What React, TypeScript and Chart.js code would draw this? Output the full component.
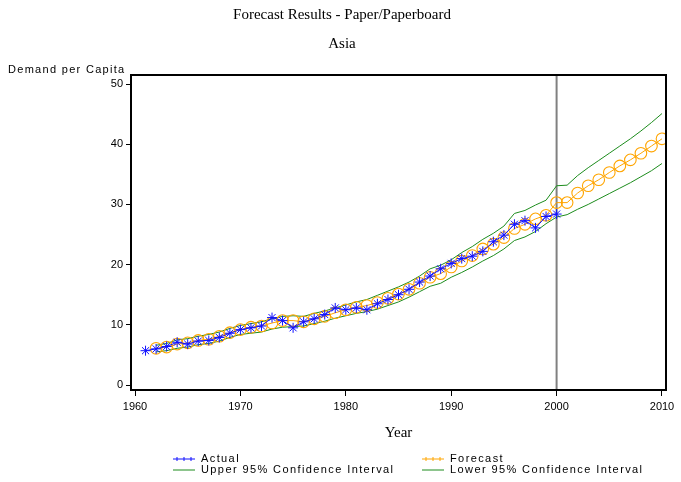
import React, { useEffect, useRef } from "react";
import { Chart, registerables } from "chart.js";

Chart.register(...registerables);

const TITLE = "Forecast Results - Paper/Paperboard";
const SUBTITLE = "Asia";
const Y_LABEL = "Demand per Capita";
const X_LABEL = "Year";

const xTicks = [1960, 1970, 1980, 1990, 2000, 2010];
const yTicks = [0, 10, 20, 30, 40, 50];
const forecastStartMarker = 2000;

const actualStart = 1961;
const actualValues = [
  5.7, 6.0, 6.4, 7.1, 6.8, 7.3, 7.4, 7.9, 8.6, 9.2,
  9.5, 9.8, 11.2, 10.7, 9.5, 10.5, 11.0, 11.7, 12.8, 12.5,
  12.8, 12.5, 13.5, 14.2, 15.0, 15.9, 17.1, 18.1, 19.3, 20.2,
  21.0, 21.4, 22.2, 23.8, 24.9, 26.7, 27.3, 26.1, 28.0, 28.4,
];

const forecastStart = 1962;
const forecastValues = [
  6.1, 6.3, 6.8, 7.0, 7.4, 7.6, 8.1, 8.7, 9.2,
  9.6, 9.8, 10.3, 10.7, 10.7, 10.5, 11.0, 11.4, 12.0, 12.5,
  12.9, 13.2, 13.7, 14.4, 15.1, 15.9, 16.9, 17.9, 18.5, 19.6,
  20.6, 21.5, 22.6, 23.4, 24.5, 26.0, 26.7, 27.6, 28.2, 30.3,
  30.3, 31.9, 33.1, 34.1, 35.3, 36.4, 37.4, 38.5, 39.7, 40.9,
];
const upperValues = [
  6.6, 6.9, 7.5, 7.7, 8.1, 8.4, 8.8, 9.4, 9.9,
  10.2, 10.5, 11.0, 11.4, 11.5, 11.4, 11.9, 12.3, 12.8, 13.3,
  13.8, 14.2, 14.9, 15.6, 16.3, 17.1, 18.1, 19.3, 19.9, 20.8,
  22.0, 23.0, 24.2, 25.2, 26.4, 28.5, 29.0, 29.9, 30.7, 33.1,
  33.2, 34.8, 36.1, 37.3, 38.5, 39.7, 40.9, 42.2, 43.6, 45.1,
];
const lowerValues = [
  5.5, 5.7, 6.1, 6.3, 6.7, 6.9, 7.3, 7.9, 8.4,
  8.6, 8.8, 9.3, 9.6, 9.7, 9.8, 10.2, 10.6, 11.1, 11.5,
  11.9, 12.2, 12.6, 13.2, 13.8, 14.6, 15.5, 16.4, 16.9, 17.9,
  18.7, 19.6, 20.6, 21.5, 22.6, 24.0, 24.6, 25.5, 26.8, 27.9,
  28.3, 29.2, 30.0, 30.9, 31.8, 32.7, 33.6, 34.6, 35.6, 36.8,
];

const BLUE = "#1010ff";
const ORANGE = "#ffa500";
const GREEN = "#1c8c1c";
const SANS = "'Liberation Sans', Arial, sans-serif";
const SERIF = "'Liberation Serif', 'Times New Roman', serif";

const toPoints = (start: number, vals: number[]) =>
  vals.map((v, i) => ({ x: start + i, y: v }));

const decor = {
  id: "decor",
  beforeDatasetsDraw(chart: any) {
    const { ctx, chartArea, scales } = chart;
    const x = scales.x.getPixelForValue(forecastStartMarker);
    ctx.save();
    ctx.strokeStyle = "#808080";
    ctx.lineWidth = 2;
    ctx.beginPath();
    ctx.moveTo(x, chartArea.top);
    ctx.lineTo(x, chartArea.bottom);
    ctx.stroke();
    ctx.restore();
  },
  afterDraw(chart: any) {
    const { ctx, chartArea } = chart;
    ctx.save();
    ctx.strokeStyle = "#000";
    ctx.lineWidth = 2;
    ctx.strokeRect(chartArea.left, chartArea.top, chartArea.right - chartArea.left, chartArea.bottom - chartArea.top);

    ctx.fillStyle = "#000";
    ctx.font = `15px ${SERIF}`;
    ctx.textAlign = "center";
    ctx.textBaseline = "middle";
    ctx.fillText(TITLE, 342, 15);
    ctx.fillText(SUBTITLE, 342, 44);
    ctx.fillText(X_LABEL, (chartArea.left + chartArea.right) / 2, 433);

    ctx.font = `11px ${SANS}`;
    ctx.textAlign = "left";
    (ctx as any).letterSpacing = "1.3px";
    ctx.fillText(Y_LABEL, 8, 70);

    const items = [
      { label: "Actual", color: BLUE, x: 173, y: 459, marker: true },
      { label: "Forecast", color: ORANGE, x: 422, y: 459, marker: true },
      { label: "Upper 95% Confidence Interval", color: GREEN, x: 173, y: 470, marker: false },
      { label: "Lower 95% Confidence Interval", color: GREEN, x: 422, y: 470, marker: false },
    ];
    (ctx as any).letterSpacing = "1.4px";
    for (const it of items) {
      ctx.strokeStyle = it.color;
      ctx.lineWidth = 1;
      ctx.beginPath();
      ctx.moveTo(it.x, it.y);
      ctx.lineTo(it.x + 22, it.y);
      ctx.stroke();
      if (it.marker) {
        for (const mx of [it.x + 4, it.x + 11, it.x + 18]) {
          ctx.beginPath();
          ctx.moveTo(mx, it.y - 2);
          ctx.lineTo(mx, it.y + 2);
          ctx.stroke();
        }
      }
      ctx.fillStyle = "#000";
      ctx.fillText(it.label, it.x + 28, it.y);
    }
    (ctx as any).letterSpacing = "0px";
    ctx.restore();
  },
};

export default function App() {
  const ref = useRef<HTMLCanvasElement | null>(null);

  useEffect(() => {
    if (!ref.current) return;
    const chart = new Chart(ref.current, {
      type: "line",
      data: {
        datasets: [
          {
            label: "Actual",
            data: toPoints(actualStart, actualValues),
            borderColor: BLUE,
            backgroundColor: BLUE,
            borderWidth: 1,
            pointStyle: "star",
            pointRadius: 5,
            pointBorderWidth: 1,
            pointBorderColor: BLUE,
            order: 0,
          },
          {
            label: "Forecast",
            data: toPoints(forecastStart, forecastValues),
            borderColor: ORANGE,
            backgroundColor: "rgba(0,0,0,0)",
            borderWidth: 1,
            pointStyle: "circle",
            pointRadius: 5.8,
            pointBorderWidth: 1.1,
            pointBorderColor: ORANGE,
            order: 1,
          },
          {
            label: "Upper 95% Confidence Interval",
            data: toPoints(forecastStart, upperValues),
            borderColor: GREEN,
            borderWidth: 1,
            pointRadius: 0,
            order: 2,
          },
          {
            label: "Lower 95% Confidence Interval",
            data: toPoints(forecastStart, lowerValues),
            borderColor: GREEN,
            borderWidth: 1,
            pointRadius: 0,
            order: 3,
          },
        ],
      },
      options: {
        animation: false,
        responsive: false,
        devicePixelRatio: 1,
        layout: { padding: { top: 75, right: 15, bottom: 0, left: 0 } },
        plugins: {
          legend: { display: false },
          title: { display: false },
          tooltip: { enabled: false },
        },
        scales: {
          x: {
            type: "linear",
            min: 1959.62,
            max: 2010.38,
            afterBuildTicks: (s: any) => {
              s.ticks = xTicks.map((v) => ({ value: v }));
            },
            afterFit: (s: any) => {
              s.height = 92;
            },
            grid: { display: true, drawOnChartArea: false, drawTicks: true, tickLength: 6, color: "#000", lineWidth: 1 },
            border: { display: false },
            ticks: {
              font: { family: SANS, size: 11 },
              color: "#000",
              padding: 4,
              maxRotation: 0,
              autoSkip: false,
              callback: (v: any) => String(v),
            },
          },
          y: {
            type: "linear",
            min: -0.83,
            max: 51.5,
            afterBuildTicks: (s: any) => {
              s.ticks = yTicks.map((v) => ({ value: v }));
            },
            afterFit: (s: any) => {
              s.width = 131;
            },
            grid: { display: true, drawOnChartArea: false, drawTicks: true, tickLength: 5, color: "#000", lineWidth: 1 },
            border: { display: false },
            ticks: {
              font: { family: SANS, size: 11 },
              color: "#000",
              padding: 3,
              autoSkip: false,
              callback: (v: any) => String(v),
            },
          },
        },
      },
      plugins: [decor],
    } as any);
    return () => chart.destroy();
  }, []);

  return (
    <div style={{ position: "fixed", left: 0, top: 0, width: 681, height: 482, background: "#fff" }}>
      <canvas ref={ref} width={681} height={482} style={{ width: 681, height: 482 }} />
    </div>
  );
}
